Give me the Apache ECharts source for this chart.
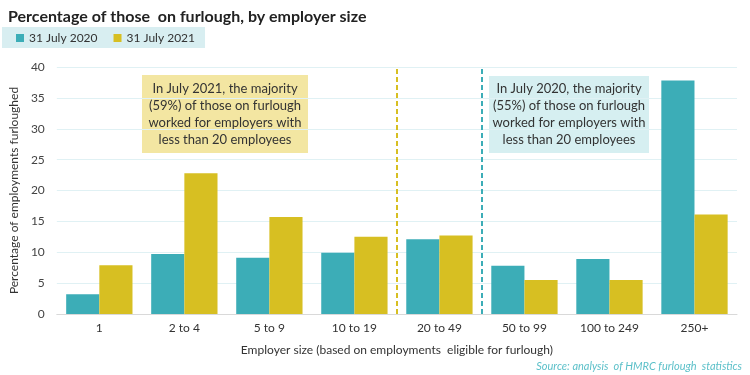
<!DOCTYPE html>
<html>
<head>
<meta charset="utf-8">
<script src="https://cdn.jsdelivr.net/npm/echarts@6/dist/echarts.min.js"></script>
<style>
  html, body { margin: 0; padding: 0; background: #fff; }
  #chart { width: 750px; height: 375px; }
</style>
</head>
<body>
<div id="chart"></div>
<script>
const categories = ['1', '2 to 4', '5 to 9', '10 to 19', '20 to 49', '50 to 99', '100 to 249', '250+']
const july2020 = [3.2, 9.7, 9.1, 9.9, 12.1, 7.8, 8.9, 37.8]
const july2021 = [7.9, 22.8, 15.7, 12.5, 12.7, 5.5, 5.5, 16.1]
// dashed dividers sit on category boundaries (value axis 0..8)
const dividers2021 = [4]
const dividers2020 = [5]

const teal = '#3cadb7'
const yellow = '#d7bf22'
const font = 'Lato, "Open Sans", sans-serif'

const chart = echarts.init(document.getElementById('chart'))

function noteBox(left, top, w, h, fill, text) {
  return {
    type: 'rect',
    left: left,
    top: top,
    shape: { width: w, height: h },
    style: { fill: fill },
    textContent: {
      style: {
        text: text,
        align: 'center',
        font: '13px ' + font,
        lineHeight: 17,
        fill: '#333'
      }
    },
    textConfig: { position: 'inside' }
  }
}

chart.setOption({
  animation: false,
  textStyle: { fontFamily: font },
  title: {
    text: 'Percentage of those  on furlough, by employer size',
    left: 3,
    top: 4,
    textStyle: { fontSize: 16, fontWeight: 'bold', color: '#222', fontFamily: font }
  },
  legend: {
    left: 2,
    top: 27,
    padding: [5, 10, 4, 14],
    backgroundColor: '#d8eef1',
    icon: 'rect',
    itemWidth: 8,
    itemHeight: 8,
    itemGap: 16,
    textStyle: { fontSize: 12, color: '#333' },
    data: ['31 July 2020', '31 July 2021']
  },
  grid: { left: 44, right: 13, top: 67, bottom: 61 },
  xAxis: [{
    type: 'category',
    data: categories,
    name: 'Employer size (based on employments  eligible for furlough)',
    nameLocation: 'middle',
    nameGap: 30,
    nameTextStyle: { fontSize: 12, color: '#333' },
    axisLine: { lineStyle: { color: '#d9d9d9' } },
    axisTick: { show: false },
    axisLabel: { fontSize: 12, color: '#333', margin: 8 }
  }, {
    type: 'value',
    min: 0,
    max: 8,
    show: false
  }],
  yAxis: {
    type: 'value',
    min: 0,
    max: 40,
    interval: 5,
    name: 'Percentage of employments furloughed',
    nameLocation: 'middle',
    nameGap: 32,
    nameTextStyle: { fontSize: 12, color: '#333' },
    axisLine: { show: false },
    axisTick: { show: false },
    axisLabel: { fontSize: 12, color: '#444', margin: 12 },
    splitLine: { lineStyle: { color: '#e0f1f4' } }
  },
  series: [{
    name: '31 July 2020',
    type: 'bar',
    data: july2020,
    barGap: '0%',
    barCategoryGap: '22%',
    itemStyle: { color: teal }
  }, {
    name: '31 July 2021',
    type: 'bar',
    data: july2021,
    itemStyle: { color: yellow }
  }, {
    name: 'dividers',
    type: 'line',
    xAxisIndex: 1,
    data: [],
    markLine: {
      silent: true,
      symbol: 'none',
      label: { show: false },
      data: [
        ...dividers2021.map(v => ({ xAxis: v, lineStyle: { color: yellow, type: [5, 3], width: 2 } })),
        ...dividers2020.map(v => ({ xAxis: v, lineStyle: { color: teal, type: [5, 3], width: 2 } }))
      ]
    }
  }],
  graphic: [
    noteBox(142, 75, 166, 78, '#f3e6a2',
      'In July 2021, the majority\n(59%) of those on furlough\nworked for employers with\nless than 20 employees'),
    noteBox(489, 76, 160, 77, '#d6eff1',
      'In July 2020, the majority\n(55%) of those on furlough\nworked for employers with\nless than 20 employees'),
    {
      type: 'text',
      right: 8,
      top: 361,
      style: {
        text: 'Source: analysis  of HMRC furlough  statistics',
        font: 'italic 11px ' + font,
        fill: '#5cc0c9'
      }
    }
  ]
})
</script>
</body>
</html>
